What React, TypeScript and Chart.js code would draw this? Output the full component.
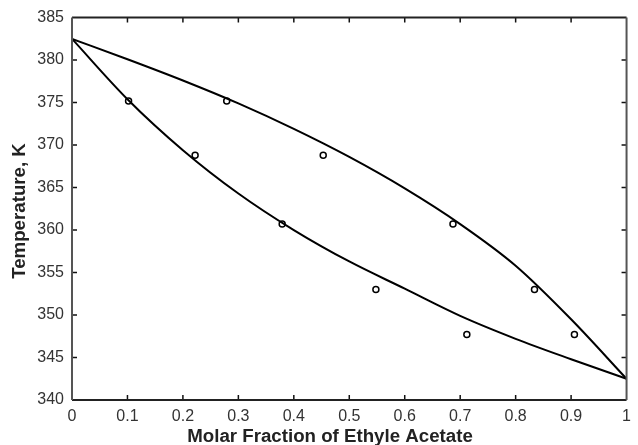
import React, { useEffect, useRef } from 'react';
import { Chart, registerables } from 'chart.js';

Chart.register(...registerables);

// Smooth model curves
const curveX = [0, 0.1, 0.2, 0.3, 0.4, 0.5, 0.6, 0.7, 0.8, 0.9, 1.0];
const dewT = [382.5, 380.1, 377.6, 374.9, 371.9, 368.6, 364.9, 360.7, 355.8, 349.5, 342.5];
const bubbleT = [382.5, 375.4, 369.4, 364.3, 360.0, 356.3, 353.1, 349.9, 347.2, 344.8, 342.5];

// Experimental points
const expX = [0.102, 0.222, 0.279, 0.379, 0.453, 0.548, 0.687, 0.712, 0.834, 0.906];
const expT = [375.2, 368.8, 375.2, 360.7, 368.8, 353.0, 360.7, 347.7, 353.0, 347.7];

// Tick labels
const xTickValues = [0, 0.1, 0.2, 0.3, 0.4, 0.5, 0.6, 0.7, 0.8, 0.9, 1];
const xTickLabels = ['0', '0.1', '0.2', '0.3', '0.4', '0.5', '0.6', '0.7', '0.8', '0.9', '1'];
const yTickValues = [340, 345, 350, 355, 360, 365, 370, 375, 380, 385];
const yTickLabels = ['340', '345', '350', '355', '360', '365', '370', '375', '380', '385'];

const xTitle = 'Molar Fraction of Ethyle Acetate';
const yTitle = 'Temperature, K';

const FONT = 'Arial, "Liberation Sans", Helvetica, sans-serif';

const framePlugin = {
  id: 'framePlugin',
  afterDatasetsDraw(chart: any) {
    const { ctx, chartArea } = chart;
    const { left, right, top, bottom } = chartArea;
    const xs = chart.scales.x;
    const ys = chart.scales.y;
    const tl = 5;
    ctx.save();
    ctx.strokeStyle = '#111';
    ctx.lineWidth = 1.5;
    ctx.beginPath();
    xTickValues.forEach((v) => {
      const px = xs.getPixelForValue(v);
      if (px <= left + 1 || px >= right - 1) return;
      ctx.moveTo(px, bottom);
      ctx.lineTo(px, bottom - tl);
      ctx.moveTo(px, top);
      ctx.lineTo(px, top + tl);
    });
    yTickValues.forEach((v) => {
      const py = ys.getPixelForValue(v);
      if (py <= top + 1 || py >= bottom - 1) return;
      ctx.moveTo(left, py);
      ctx.lineTo(left + tl, py);
      ctx.moveTo(right, py);
      ctx.lineTo(right - tl, py);
    });
    ctx.stroke();
    // frame
    ctx.lineWidth = 2;
    ctx.strokeStyle = '#222';
    ctx.beginPath();
    ctx.moveTo(left, top);
    ctx.lineTo(right, top);
    ctx.moveTo(left, bottom);
    ctx.lineTo(right, bottom);
    ctx.stroke();
    ctx.strokeStyle = '#555';
    ctx.beginPath();
    ctx.moveTo(left, top);
    ctx.lineTo(left, bottom);
    ctx.moveTo(right, top);
    ctx.lineTo(right, bottom);
    ctx.stroke();

    // axis titles
    ctx.fillStyle = '#222';
    ctx.font = `bold 18.7px ${FONT}`;
    ctx.textAlign = 'center';
    ctx.textBaseline = 'alphabetic';
    ctx.fillText(xTitle, 330, 442);
    ctx.save();
    ctx.translate(25, 211);
    ctx.rotate(-Math.PI / 2);
    ctx.fillText(yTitle, 0, 0);
    ctx.restore();
    ctx.restore();
  },
};

export default function App() {
  const canvasRef = useRef<HTMLCanvasElement | null>(null);

  useEffect(() => {
    const canvas = canvasRef.current;
    if (!canvas) return;
    const chart = new Chart(canvas, {
      type: 'scatter',
      data: {
        datasets: [
          {
            label: 'Dew',
            data: curveX.map((x, i) => ({ x, y: dewT[i] })),
            showLine: true,
            borderColor: '#000',
            borderWidth: 2,
            pointRadius: 0,
            cubicInterpolationMode: 'monotone',
          },
          {
            label: 'Bubble',
            data: curveX.map((x, i) => ({ x, y: bubbleT[i] })),
            showLine: true,
            borderColor: '#000',
            borderWidth: 2,
            pointRadius: 0,
            cubicInterpolationMode: 'monotone',
          },
          {
            label: 'Experimental',
            data: expX.map((x, i) => ({ x, y: expT[i] })),
            showLine: false,
            borderColor: '#000',
            backgroundColor: 'rgba(0,0,0,0)',
            borderWidth: 1.5,
            pointRadius: 3,
            pointStyle: 'circle',
          },
        ],
      },
      options: {
        animation: false,
        responsive: false,
        maintainAspectRatio: false,
        layout: { padding: { left: 0, top: 16, right: 4, bottom: 0 } },
        plugins: {
          legend: { display: false },
          tooltip: { enabled: false },
        },
        scales: {
          x: {
            type: 'linear',
            min: 0,
            max: 1,
            afterFit: (s: any) => { s.height = 45; },
            afterBuildTicks: (s: any) => { s.ticks = xTickValues.map((v) => ({ value: v })); },
            grid: { display: false, drawTicks: false },
            border: { display: false },
            ticks: {
              padding: 7,
              color: '#333',
              font: { family: FONT, size: 16 },
              callback: (v: any) => {
                const i = xTickValues.findIndex((t) => Math.abs(t - v) < 1e-9);
                return i >= 0 ? xTickLabels[i] : '';
              },
            },
            title: { display: false },
          },
          y: {
            type: 'linear',
            min: 340,
            max: 385,
            afterFit: (s: any) => { s.width = 72; },
            afterBuildTicks: (s: any) => { s.ticks = yTickValues.map((v) => ({ value: v })); },
            grid: { display: false, drawTicks: false },
            border: { display: false },
            ticks: {
              padding: 8,
              color: '#333',
              font: { family: FONT, size: 16 },
              callback: (v: any) => {
                const i = yTickValues.findIndex((t) => Math.abs(t - v) < 1e-9);
                return i >= 0 ? yTickLabels[i] : '';
              },
            },
            title: { display: false },
          },
        },
      },
      plugins: [framePlugin],
    });
    return () => chart.destroy();
  }, []);

  return (
    <div style={{ position: 'fixed', left: 0, top: 0, width: 638, height: 445, background: '#fff' }}>
      <canvas ref={canvasRef} width={638} height={445} style={{ display: 'block', width: 638, height: 445 }} />
    </div>
  );
}
